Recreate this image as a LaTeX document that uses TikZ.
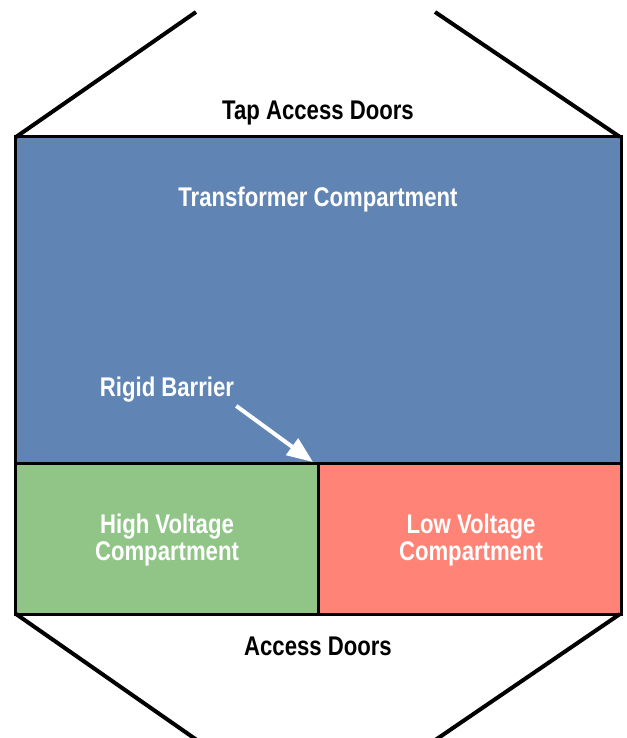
\documentclass[tikz,border=0pt]{standalone}
\usepackage{fontspec}
\setmainfont{Liberation Sans}[FakeStretch=0.82]
\usetikzlibrary{arrows.meta}
\definecolor{tcblue}{RGB}{96,133,180}
\definecolor{hvgreen}{RGB}{145,197,136}
\definecolor{lvred}{RGB}{255,131,118}
\tikzset{
  door/.style={line width=4pt, black},
  border/.style={line width=3pt, black},
  lbl/.style={font=\fontsize{27}{27}\selectfont\bfseries, inner sep=0pt, anchor=base, align=center},
  wlbl/.style={lbl, text=white},
  barrow/.style={white, line width=4pt, -{Triangle[length=26pt,width=20pt]}}
}
\begin{document}
\begin{tikzpicture}[x=1pt,y=-1pt]
\useasboundingbox (0,0) rectangle (626,738);
\clip (0,0) rectangle (626,738);
% compartments
\fill[tcblue] (15,137) rectangle (621,463);
\fill[hvgreen] (15,463) rectangle (318,614);
\fill[lvred] (318,463) rectangle (621,614);
\draw[border] (15,137) rectangle (621,614);
\draw[border] (15,463) -- (621,463);
\draw[border] (318,463) -- (318,614);
% door lines
\coordinate (tl) at (16,137);
\coordinate (tr) at (620,137);
\coordinate (bl) at (16,614);
\coordinate (br) at (620,614);
\coordinate (tle) at (196,12);
\coordinate (tre) at (435,12);
\coordinate (ble) at (204,745);
\coordinate (bre) at (428,745);
\draw[door] (tl) -- (tle);
\draw[door] (tr) -- (tre);
\draw[door] (bl) -- (ble);
\draw[door] (br) -- (bre);
% labels
\node[lbl] (tap) at (318,120) {Tap Access Doors};
\node[wlbl] (tc) at (318,206) {Transformer Compartment};
\node[wlbl] (hv) at (167,560) {High Voltage\\Compartment};
\node[wlbl] (lv) at (471,560) {Low Voltage\\Compartment};
\node[lbl] (ad) at (318,655) {Access Doors};
\node[wlbl] (rb) at (167,396) {Rigid Barrier};
\coordinate (jn) at (313,462);
\draw[barrow] ([shift={(2,4)}]rb.south east) -- (jn);
\end{tikzpicture}
\end{document}
